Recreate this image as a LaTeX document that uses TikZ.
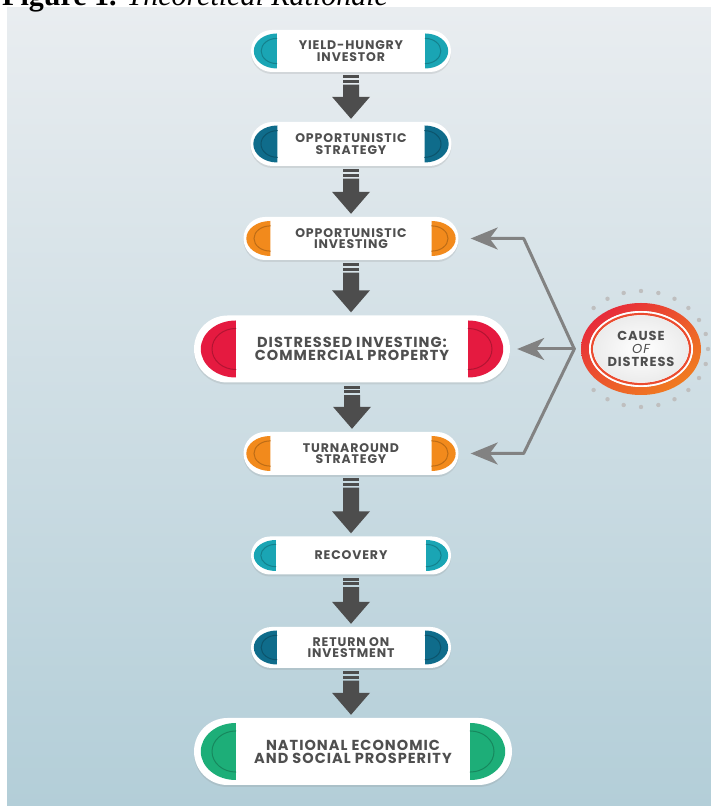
\documentclass[tikz,border=0pt]{standalone}
\usepackage{fontspec}
\setmainfont{Liberation Serif}
\newfontfamily\pillfont{Poppins}[LetterSpace=7]
\usetikzlibrary{shapes.misc,shapes.geometric,shadows,shadings,calc,arrows.meta}
\definecolor{tealA}{HTML}{1AA5B4}
\definecolor{tealB}{HTML}{0F6C8B}
\definecolor{orng}{HTML}{F28A1C}
\definecolor{rd}{HTML}{E51A40}
\definecolor{grn}{HTML}{1DAE78}
\definecolor{txtgray}{HTML}{4F4F4F}
\definecolor{arrgray}{HTML}{4D4D4D}
\definecolor{lngray}{HTML}{828282}
\definecolor{bgtop}{HTML}{E9EDF0}
\definecolor{bgbot}{HTML}{B3CED8}
% coloured ends of a pill: node, colour, half height, width, inset
\newcommand{\pillcaps}[5]{%
	\fill[#2] ($(#1.west)+({#5+#4},#3)$) arc[start angle=90,end angle=270,x radius=#4,y radius=#3] -- cycle;
	\draw[#2!78!black,line width=1pt] ($(#1.west)+({#5+#4},{0.72*#3})$) arc[start angle=90,end angle=270,x radius={0.68*#4},y radius={0.72*#3}];
	\fill[#2] ($(#1.east)+({-#5-#4},#3)$) arc[start angle=90,end angle=-90,x radius=#4,y radius=#3] -- cycle;
	\draw[#2!78!black,line width=1pt] ($(#1.east)+({-#5-#4},{0.72*#3})$) arc[start angle=90,end angle=-90,x radius={0.68*#4},y radius={0.72*#3}];
}
% block arrow from one pill down to the next
\newcommand{\flowarrow}[2]{%
	\fill[arrgray] ($(#1.south)+(-8,-3)$) rectangle ($(#1.south)+(8,-6)$);
	\fill[arrgray] ($(#1.south)+(-8,-7.5)$) rectangle ($(#1.south)+(8,-10.5)$);
	\fill[arrgray] ($(#1.south)+(-8,-12.5)$) -- ($(#1.south)+(8,-12.5)$) -- ($(#1.south |- #2.north)+(8,25)$) -- ($(#1.south |- #2.north)+(19,25)$) -- ($(#1.south |- #2.north)+(0,3)$) -- ($(#1.south |- #2.north)+(-19,25)$) -- ($(#1.south |- #2.north)+(-8,25)$) -- cycle;
}
\begin{document}
\begin{tikzpicture}[x=1pt,y=1pt,line join=round,line cap=round,
	pill/.style={rounded rectangle,fill=white,inner sep=0pt,align=center,text=txtgray,
		font=\pillfont\bfseries\fontsize{12.5}{11.5}\selectfont,
		drop shadow={shadow xshift=0pt,shadow yshift=-2pt,opacity=0.18}},
	bigpill/.style={pill,font=\pillfont\bfseries\fontsize{14.5}{13}\selectfont},
	conn/.style={draw=lngray,line width=3pt,-{Stealth[length=27pt,width=22pt,inset=8pt]}}]
	\useasboundingbox (0,0) rectangle (711,806);
	\shade[top color=bgtop,bottom color=bgbot] (7,0) rectangle (711,798);
	\node[anchor=base west,inner sep=0pt,font=\fontsize{30}{30}\selectfont] (title) at (2,800) {\textbf{Figure 1.} \textit{Theoretical Rationale}};
	% steps
	\node[pill,minimum width=200pt,minimum height=42pt] (yield) at (351,755) {YIELD-HUNGRY\\INVESTOR};
	\node[pill,minimum width=201pt,minimum height=44pt] (strat) at (351,662) {OPPORTUNISTIC\\STRATEGY};
	\node[pill,minimum width=215pt,minimum height=43pt] (oppinv) at (351,567.5) {OPPORTUNISTIC\\INVESTING};
	\node[bigpill,minimum width=316pt,minimum height=67pt] (distr) at (352,457) {DISTRESSED INVESTING:\\COMMERCIAL PROPERTY};
	\node[pill,minimum width=215pt,minimum height=43pt] (turn) at (351,352.5) {TURNAROUND\\STRATEGY};
	\node[pill,minimum width=200pt,minimum height=38pt] (recov) at (351,250.5) {RECOVERY};
	\node[pill,minimum width=200pt,minimum height=41pt] (roi) at (351,158.5) {RETURN ON\\INVESTMENT};
	\node[bigpill,minimum width=318pt,minimum height=67pt] (nat) at (353,54.5) {NATIONAL ECONOMIC\\AND SOCIAL PROSPERITY};
	\pillcaps{yield}{tealA}{17.5}{23}{3}
	\pillcaps{strat}{tealB}{18.5}{24}{3}
	\pillcaps{oppinv}{orng}{17.5}{24}{3}
	\pillcaps{distr}{rd}{28.5}{35}{7}
	\pillcaps{turn}{orng}{17.5}{24}{3}
	\pillcaps{recov}{tealA}{15.5}{22}{3}
	\pillcaps{roi}{tealB}{17}{23}{3}
	\pillcaps{nat}{grn}{28.5}{35}{7}
	\flowarrow{yield}{strat}
	\flowarrow{strat}{oppinv}
	\flowarrow{oppinv}{distr}
	\flowarrow{distr}{turn}
	\flowarrow{turn}{recov}
	\flowarrow{recov}{roi}
	\flowarrow{roi}{nat}
	% cause of distress
	\coordinate (cc) at (641,457);
	\foreach \a in {-135,-120,...,135}
		\fill[gray!50] ($(cc)+(\a:67 and 58)$) circle[radius=2.2];
	\shade[even odd rule,upper left=rd,upper right=rd!45!orng,lower left=rd!45!orng,lower right=orng]
		(cc) ellipse[x radius=60,y radius=46] (cc) ellipse[x radius=52,y radius=38];
	\fill[white] (cc) ellipse[x radius=52,y radius=38];
	\draw[rd!55!orng,line width=2.2pt] (cc) ellipse[x radius=49,y radius=35];
	\shade[inner color=white,outer color=gray!15] (cc) ellipse[x radius=47.5,y radius=33.5];
	\node[ellipse,minimum width=121pt,minimum height=92pt,inner sep=0pt,align=center,text=txtgray,
		font=\pillfont\bfseries\fontsize{13}{13}\selectfont] (cause) at (cc) {CAUSE\\{\mdseries\itshape OF}\\DISTRESS};
	\coordinate (branch) at ($(cause.west)+(-6,0)$);
	\draw[conn] (branch) -- ([xshift=65pt]oppinv.east) -- ([xshift=12pt]oppinv.east);
	\draw[conn] (branch) -- ([xshift=7pt]distr.east);
	\draw[conn] (branch) -- ([xshift=65pt]turn.east) -- ([xshift=12pt]turn.east);
\end{tikzpicture}
\end{document}
